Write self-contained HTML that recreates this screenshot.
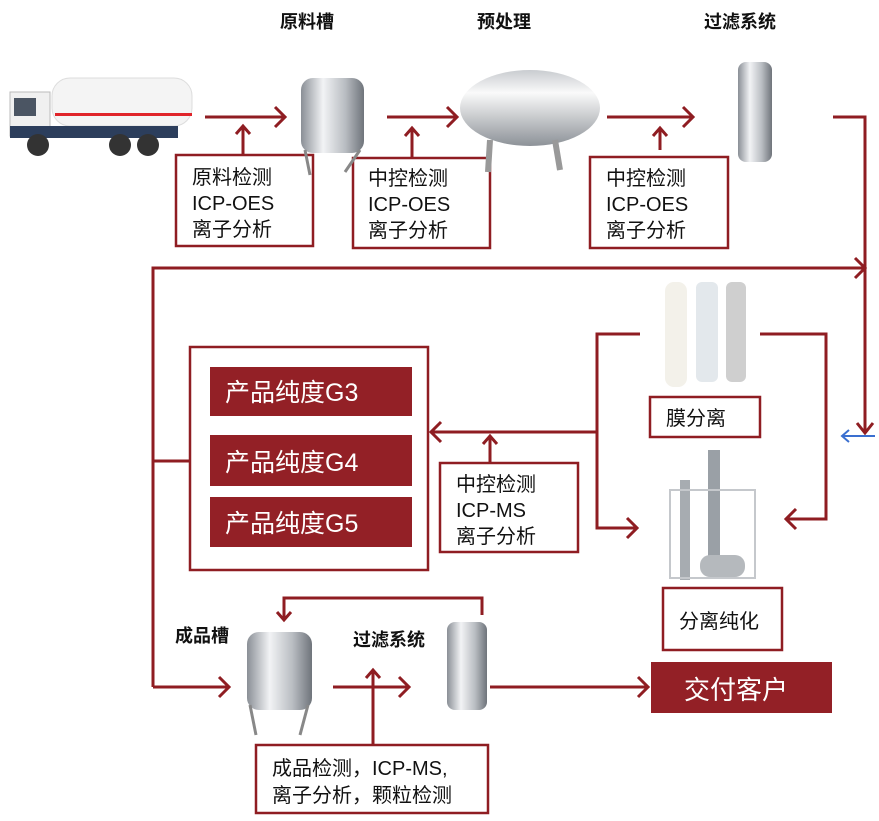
<!DOCTYPE html>
<html><head><meta charset="utf-8"><style>
body{margin:0;background:#fff;}
svg text{font-family:"Liberation Sans","Noto Sans CJK SC",sans-serif;}
</style></head><body>
<svg width="879" height="816" viewBox="0 0 879 816" xmlns="http://www.w3.org/2000/svg">
<defs>
<linearGradient id="m" x1="0" x2="1"><stop offset="0" stop-color="#8a8f96"/><stop offset=".35" stop-color="#f2f3f5"/><stop offset=".7" stop-color="#b9bdc2"/><stop offset="1" stop-color="#6f747b"/></linearGradient>
<linearGradient id="mv" x1="0" y1="0" x2="0" y2="1"><stop offset="0" stop-color="#c9ccd0"/><stop offset=".3" stop-color="#fafafa"/><stop offset="1" stop-color="#8d9298"/></linearGradient>
</defs>
<g fill="none" stroke="#8f1d22" stroke-width="3">
<path d="M205 117H285M275 107L285 117L275 127"/>
<path d="M387 117H457M447 107L457 117L447 127"/>
<path d="M607 117H693M683 107L693 117L683 127"/>
<path d="M243 158V126M236 134L243 126L250 134"/>
<path d="M412 158V128M405 136L412 128L419 136"/>
<path d="M660 150V128M653 136L660 128L667 136"/>
<path d="M833 117H865V433M857 423L865 433L873 423"/>
<path d="M153 687V268H865M855 258L865 268L855 278"/>
<path d="M153 461H190"/>
<path d="M153 687H229M219 677L229 687L219 697"/>
<path d="M640 334H597V528H637M627 518L637 528L627 538"/>
<path d="M597 432H431M441 422L431 432L441 442"/>
<path d="M490 462V436M483 444L490 436L497 444"/>
<path d="M760 334H826V519H786M796 509L786 519L796 529"/>
<path d="M482 615V598H284V620M277 612L284 620L291 612"/>
<path d="M333 687H409M399 677L409 687L399 697"/>
<path d="M373 745V670M366 678L373 670L380 678"/>
<path d="M490 687H648M638 677L648 687L638 697"/>
</g>
<path d="M875 436H842M849 430L842 436L849 442" fill="none" stroke="#3a6fd0" stroke-width="2"/>
<g fill="#fff" stroke="#8f1d22" stroke-width="2.5">
<rect x="176" y="155" width="137" height="91"/>
<rect x="353" y="158" width="137" height="90"/>
<rect x="590" y="157" width="138" height="91"/>
<rect x="190" y="347" width="238" height="223"/>
<rect x="440" y="463" width="138" height="89"/>
<rect x="650" y="397" width="110" height="40"/>
<rect x="663" y="588" width="119" height="62"/>
<rect x="256" y="745" width="232" height="68"/>
</g>
<g fill="#932026">
<rect x="210" y="367" width="202" height="49"/>
<rect x="210" y="435" width="202" height="51"/>
<rect x="210" y="497" width="202" height="50"/>
<rect x="651" y="662" width="181" height="51"/>
</g>
<g>
<rect x="52" y="78" width="140" height="48" rx="18" fill="#f4f4f4" stroke="#ddd"/>
<rect x="55" y="113" width="137" height="3" fill="#e0242a"/>
<rect x="10" y="92" width="40" height="44" fill="#f0f0f0" stroke="#bbb"/>
<rect x="14" y="98" width="22" height="18" fill="#4b5563"/>
<rect x="10" y="126" width="168" height="12" fill="#2c3e5c"/>
<circle cx="38" cy="145" r="11" fill="#333"/><circle cx="120" cy="145" r="11" fill="#333"/><circle cx="148" cy="145" r="11" fill="#333"/>
<rect x="301" y="78" width="63" height="75" rx="12" fill="url(#m)"/>
<path d="M305 150L310 175M360 150L345 172" stroke="#888" stroke-width="3"/>
<ellipse cx="530" cy="108" rx="70" ry="38" fill="url(#mv)"/>
<path d="M490 140L488 172M555 140L560 170" stroke="#999" stroke-width="6"/>
<rect x="738" y="62" width="34" height="100" rx="8" fill="url(#m)"/>
<rect x="665" y="282" width="22" height="105" rx="9" fill="#f3f1ea"/>
<rect x="696" y="282" width="22" height="100" rx="6" fill="#e3e8ec"/>
<rect x="726" y="282" width="20" height="100" rx="6" fill="#cfcfcf"/>
<rect x="708" y="450" width="12" height="120" fill="#9aa0a6"/>
<rect x="680" y="480" width="10" height="100" fill="#a7acb1"/>
<rect x="670" y="490" width="85" height="88" fill="none" stroke="#c5c8cc" stroke-width="2"/>
<rect x="700" y="555" width="45" height="22" rx="10" fill="#b5b9bd"/>
<rect x="247" y="632" width="65" height="78" rx="12" fill="url(#m)"/>
<path d="M250 705L256 735M308 705L300 735" stroke="#888" stroke-width="3"/>
<rect x="447" y="622" width="40" height="88" rx="8" fill="url(#m)"/>
</g>
<g font-weight="bold" font-size="18" fill="#111">
<text x="280" y="28">原料槽</text>
<text x="477" y="28">预处理</text>
<text x="704" y="28">过滤系统</text>
<text x="175" y="642">成品槽</text>
<text x="353" y="646">过滤系统</text>
</g>
<g font-size="20" fill="#111">
<text x="192" y="184">原料检测</text><text x="192" y="210">ICP-OES</text><text x="192" y="236">离子分析</text>
<text x="368" y="185">中控检测</text><text x="368" y="211">ICP-OES</text><text x="368" y="237">离子分析</text>
<text x="606" y="185">中控检测</text><text x="606" y="211">ICP-OES</text><text x="606" y="237">离子分析</text>
<text x="456" y="491">中控检测</text><text x="456" y="517">ICP-MS</text><text x="456" y="543">离子分析</text>
<text x="666" y="425">膜分离</text>
<text x="679" y="628">分离纯化</text>
<text x="272" y="775">成品检测，ICP-MS,</text>
<text x="272" y="802">离子分析，颗粒检测</text>
</g>
<g font-size="25" fill="#fff">
<text x="225" y="401">产品纯度G3</text>
<text x="225" y="471">产品纯度G4</text>
<text x="225" y="532">产品纯度G5</text>
</g>
<text x="684" y="699" font-size="26" fill="#fff">交付客户</text>
</svg>
</body></html>
